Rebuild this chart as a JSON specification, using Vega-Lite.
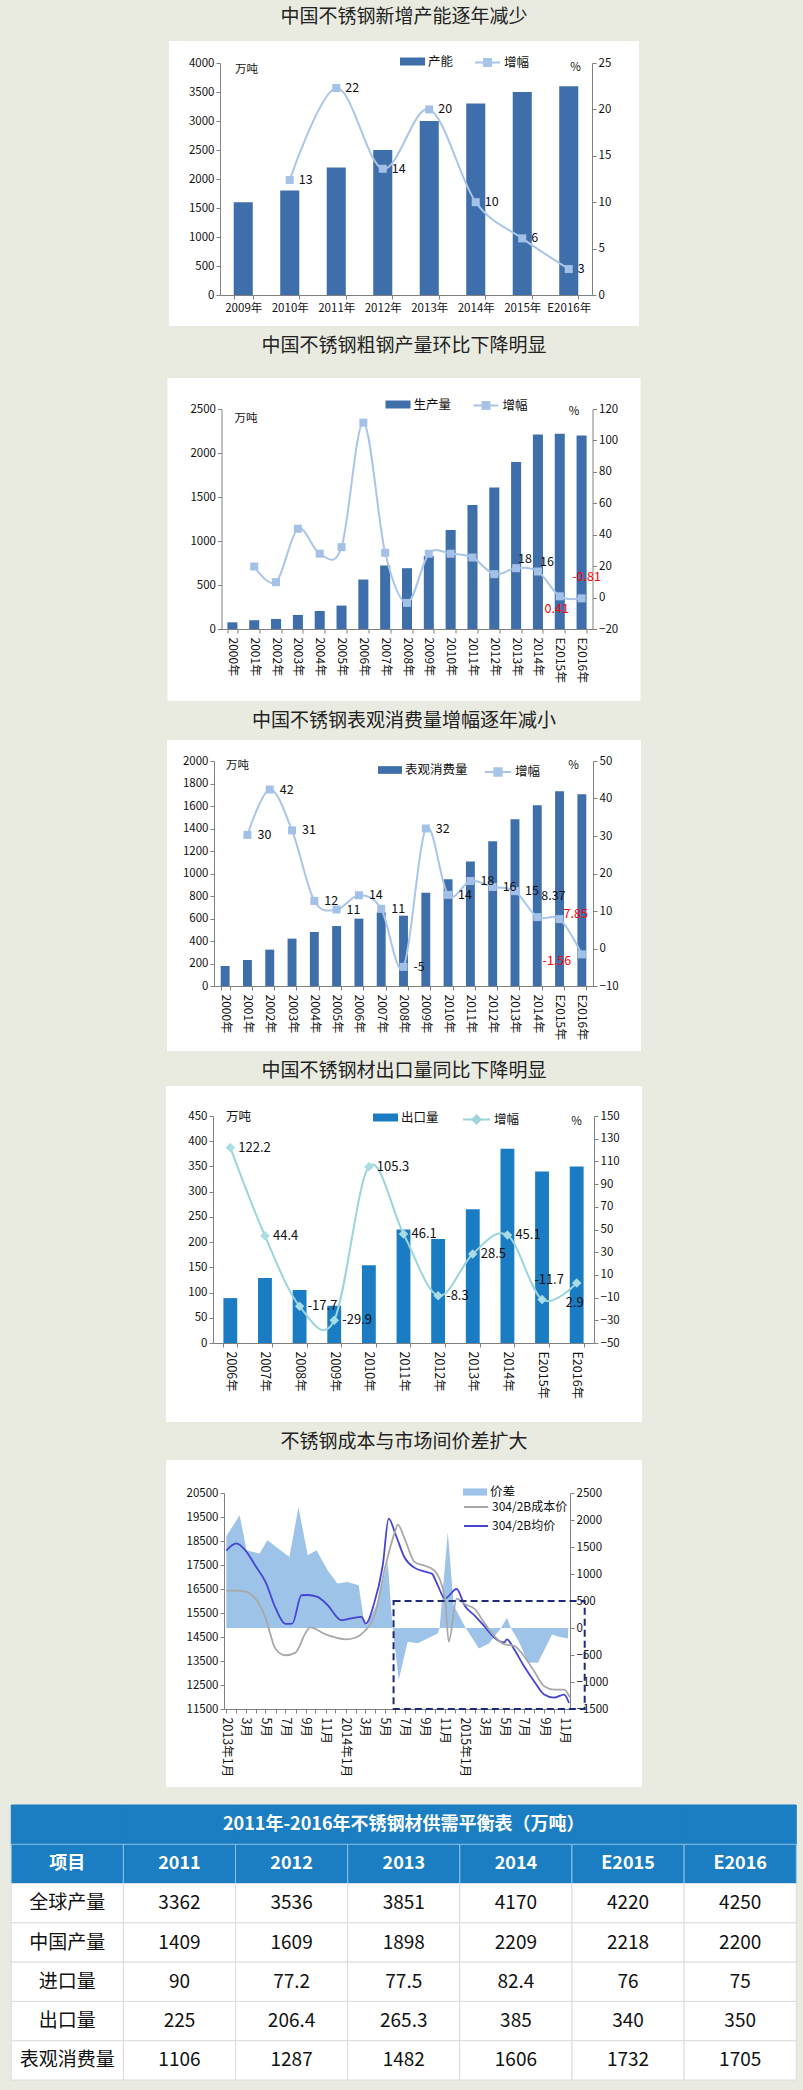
{
"$schema": "https://vega.github.io/schema/vega-lite/v6.json",
"padding": {"left": 10, "right": 8, "top": 8, "bottom": 16},
"config": {
  "background": "#e9ebe1",
  "font": "Noto Sans CJK SC",
  "view": {"stroke": null},
  "axis": {"labelFont": "Noto Sans CJK SC", "labelFontSize": 11.5, "labelColor": "#111111", "domainColor": "#808080", "tickColor": "#808080", "tickSize": 4, "grid": false, "titleFont": "Noto Sans CJK SC", "titleFontSize": 11.5, "titleFontWeight": "normal", "titleColor": "#111111", "labelOverlap": false, "labelFlush": false, "labelBound": false},
  "title": {"font": "Noto Sans CJK SC", "fontSize": 19, "fontWeight": "normal", "color": "#222222"},
  "legend": {"labelFont": "Noto Sans CJK SC", "labelFontSize": 12.5, "labelColor": "#111111", "padding": 0, "labelOffset": 3},
  "text": {"font": "Noto Sans CJK SC", "fontSize": 12}
},
"resolve": {"scale": {"fill": "independent", "stroke": "independent", "x": "independent", "y": "independent"}, "legend": {"fill": "independent", "stroke": "independent"}},
"vconcat": [
 {
  "spacing": 11,
  "center": true,
  "resolve": {"scale": {"fill": "independent", "stroke": "independent", "x": "independent", "y": "independent"}, "legend": {"fill": "independent", "stroke": "independent"}},
  "vconcat": [
   {
    "width": 470, "height": 285,
    "view": {"fill": "#ffffff", "stroke": null},
    "title": {"text": "中国不锈钢新增产能逐年减少", "offset": 14},
    "data": {"values": [
      {"year": "2009年", "v": 1600},
      {"year": "2010年", "v": 1800, "pct": 12.4, "label": "13"},
      {"year": "2011年", "v": 2200, "pct": 22.3, "label": "22"},
      {"year": "2012年", "v": 2500, "pct": 13.6, "label": "14"},
      {"year": "2013年", "v": 3000, "pct": 20, "label": "20"},
      {"year": "2014年", "v": 3300, "pct": 10, "label": "10"},
      {"year": "2015年", "v": 3500, "pct": 6.1, "label": "6"},
      {"year": "E2016年", "v": 3600, "pct": 2.8, "label": "3"}
    ]},
    "encoding": {"x": {"field": "year", "type": "ordinal", "scale": {"range": [51, 423], "paddingInner": 0.59, "paddingOuter": 0.295}, "axis": {"title": null, "labelAngle": 0, "offset": -31, "tickBand": "extent", "labelPadding": 3}}},
    "layer": [
     {"mark": {"type": "bar"},
      "encoding": {
       "y": {"field": "v", "type": "quantitative", "scale": {"domain": [0, 4000], "range": [254, 22], "nice": false, "zero": false}, "axis": {"orient": "left", "offset": -51, "values": [0, 500, 1000, 1500, 2000, 2500, 3000, 3500, 4000], "format": "d", "title": "万吨", "titleAngle": 0, "titleX": 26, "titleY": 28, "titleAlign": "center", "titleBaseline": "middle"}},
       "fill": {"datum": "产能", "type": "nominal", "scale": {"range": ["#3f6faa"]}, "legend": {"title": null, "orient": "none", "legendX": 231, "legendY": 8, "symbolType": "M-1,-0.32H1V0.32H-1Z", "symbolSize": 625, "symbolStrokeWidth": 0}}
      }},
     {"transform": [{"filter": "isValid(datum.pct)"}],
      "encoding": {"y": {"field": "pct", "type": "quantitative", "scale": {"domain": [0, 25], "range": [254, 22], "nice": false, "zero": false}, "axis": {"orient": "right", "offset": -47, "values": [0, 5, 10, 15, 20, 25], "format": "d", "title": "%", "titleAngle": 0, "titleX": -17, "titleY": 26, "titleAlign": "center", "titleBaseline": "middle"}}},
      "layer": [
       {"mark": {"type": "line", "interpolate": "cardinal", "tension": 0, "strokeWidth": 2},
        "encoding": {"stroke": {"datum": "增幅", "type": "nominal", "scale": {"range": ["#a9c5e8"]}, "legend": {"title": null, "orient": "none", "legendX": 305, "legendY": 8, "symbolType": "M-1,0H1M-0.28,-0.28H0.28V0.28H-0.28Z", "symbolSize": 625, "symbolStrokeWidth": 2, "symbolFillColor": "#a3c1e7"}}}},
       {"mark": {"type": "point", "shape": "square", "filled": true, "size": 64, "color": "#a3c1e7", "opacity": 1}},
       {"mark": {"type": "text", "align": "left", "baseline": "middle", "dx": 9, "fontSize": 12.5, "color": "#111111"}, "encoding": {"text": {"field": "label"}}}
      ]}
    ],
    "resolve": {"scale": {"y": "independent"}}
   },
   {
    "width": 473, "height": 323,
    "view": {"fill": "#ffffff", "stroke": null},
    "title": {"text": "中国不锈钢粗钢产量环比下降明显", "offset": 22},
    "data": {"values": [
      {"year": "2000年", "v": 76},
      {"year": "2001年", "v": 100, "pct": 19.8},
      {"year": "2002年", "v": 114, "pct": 9.8},
      {"year": "2003年", "v": 160, "pct": 43.8},
      {"year": "2004年", "v": 205, "pct": 27.9},
      {"year": "2005年", "v": 266, "pct": 32.1},
      {"year": "2006年", "v": 562, "pct": 111.3},
      {"year": "2007年", "v": 722, "pct": 28.5},
      {"year": "2008年", "v": 691, "pct": -3.4},
      {"year": "2009年", "v": 830, "pct": 27.9},
      {"year": "2010年", "v": 1125, "pct": 27.9},
      {"year": "2011年", "v": 1409, "pct": 25.5},
      {"year": "2012年", "v": 1609, "pct": 14.9},
      {"year": "2013年", "v": 1898, "pct": 18.7, "label": "18"},
      {"year": "2014年", "v": 2209, "pct": 16.6, "label": "16"},
      {"year": "E2015年", "v": 2218, "pct": 0.8, "label": "0.41"},
      {"year": "E2016年", "v": 2200, "pct": -0.5, "label": "-0.81"}
    ]},
    "encoding": {"x": {"field": "year", "type": "ordinal", "scale": {"range": [54, 425], "paddingInner": 0.54, "paddingOuter": 0.27}, "axis": {"title": null, "labelAngle": 90, "labelFontSize": 12, "offset": -72, "tickBand": "extent", "labelPadding": 4}}},
    "layer": [
     {"mark": {"type": "bar"},
      "encoding": {
       "y": {"field": "v", "type": "quantitative", "scale": {"domain": [0, 2500], "range": [251, 31], "nice": false, "zero": false}, "axis": {"orient": "left", "offset": -54, "values": [0, 500, 1000, 1500, 2000, 2500], "format": "d", "title": "万吨", "titleAngle": 0, "titleX": 24, "titleY": 40, "titleAlign": "center", "titleBaseline": "middle"}},
       "fill": {"datum": "生产量", "type": "nominal", "scale": {"range": ["#3f6faa"]}, "legend": {"title": null, "orient": "none", "legendX": 218, "legendY": 14, "symbolType": "M-1,-0.32H1V0.32H-1Z", "symbolSize": 625, "symbolStrokeWidth": 0}}
      }},
     {"transform": [{"filter": "isValid(datum.pct)"}],
      "encoding": {"y": {"field": "pct", "type": "quantitative", "scale": {"domain": [-20, 120], "range": [251, 31], "nice": false, "zero": false}, "axis": {"orient": "right", "offset": -48, "values": [-20, 0, 20, 40, 60, 80, 100, 120], "format": "d", "title": "%", "titleAngle": 0, "titleX": -19, "titleY": 33, "titleAlign": "center", "titleBaseline": "middle"}}},
      "layer": [
       {"mark": {"type": "line", "interpolate": "cardinal", "tension": 0, "strokeWidth": 2},
        "encoding": {"stroke": {"datum": "增幅", "type": "nominal", "scale": {"range": ["#a9c5e8"]}, "legend": {"title": null, "orient": "none", "legendX": 305, "legendY": 14, "symbolType": "M-1,0H1M-0.28,-0.28H0.28V0.28H-0.28Z", "symbolSize": 625, "symbolStrokeWidth": 2, "symbolFillColor": "#a3c1e7"}}}},
       {"mark": {"type": "point", "shape": "square", "filled": true, "size": 64, "color": "#a3c1e7", "opacity": 1}},
       {"transform": [{"filter": "datum.year == '2013年' || datum.year == '2014年'"}], "mark": {"type": "text", "align": "left", "baseline": "middle", "dx": 2, "dy": -9, "fontSize": 12.5, "color": "#111111"}, "encoding": {"text": {"field": "label"}}},
       {"transform": [{"filter": "datum.year == 'E2015年'"}], "mark": {"type": "text", "align": "center", "baseline": "middle", "dx": -3, "dy": 13, "fontSize": 12.5, "color": "#ff0000"}, "encoding": {"text": {"field": "label"}}},
       {"transform": [{"filter": "datum.year == 'E2016年'"}], "mark": {"type": "text", "align": "center", "baseline": "middle", "dx": 5, "dy": -21, "fontSize": 12.5, "color": "#ff0000"}, "encoding": {"text": {"field": "label"}}}
      ]}
    ],
    "resolve": {"scale": {"y": "independent"}}
   },
   {
    "width": 474, "height": 311,
    "view": {"fill": "#ffffff", "stroke": null},
    "title": {"text": "中国不锈钢表观消费量增幅逐年减小", "offset": 9},
    "data": {"values": [
      {"year": "2000年", "v": 178},
      {"year": "2001年", "v": 231, "pct": 30.3, "label": "30"},
      {"year": "2002年", "v": 323, "pct": 42.4, "label": "42"},
      {"year": "2003年", "v": 421, "pct": 31.5, "label": "31"},
      {"year": "2004年", "v": 480, "pct": 12.7, "label": "12"},
      {"year": "2005年", "v": 533, "pct": 10.4, "label": "11"},
      {"year": "2006年", "v": 599, "pct": 14.2, "label": "14"},
      {"year": "2007年", "v": 655, "pct": 10.6, "label": "11"},
      {"year": "2008年", "v": 625, "pct": -4.9, "label": "-5"},
      {"year": "2009年", "v": 830, "pct": 32, "label": "32"},
      {"year": "2010年", "v": 948, "pct": 14.3, "label": "14"},
      {"year": "2011年", "v": 1106, "pct": 18, "label": "18"},
      {"year": "2012年", "v": 1287, "pct": 16.4, "label": "16"},
      {"year": "2013年", "v": 1482, "pct": 15.3, "label": "15"},
      {"year": "2014年", "v": 1606, "pct": 8.37, "label": "8.37"},
      {"year": "E2015年", "v": 1732, "pct": 7.85, "label": "7.85"},
      {"year": "E2016年", "v": 1705, "pct": -1.56, "label": "-1.56"}
    ]},
    "encoding": {"x": {"field": "year", "type": "ordinal", "scale": {"range": [47, 426], "paddingInner": 0.6, "paddingOuter": 0.3}, "axis": {"title": null, "labelAngle": 90, "labelFontSize": 12, "offset": -65, "tickBand": "extent", "labelPadding": 4}}},
    "layer": [
     {"mark": {"type": "bar"},
      "encoding": {
       "y": {"field": "v", "type": "quantitative", "scale": {"domain": [0, 2000], "range": [246, 21], "nice": false, "zero": false}, "axis": {"orient": "left", "offset": -47, "values": [0, 200, 400, 600, 800, 1000, 1200, 1400, 1600, 1800, 2000], "format": "d", "title": "万吨", "titleAngle": 0, "titleX": 23, "titleY": 25, "titleAlign": "center", "titleBaseline": "middle"}},
       "fill": {"datum": "表观消费量", "type": "nominal", "scale": {"range": ["#3f6faa"]}, "legend": {"title": null, "orient": "none", "legendX": 211, "legendY": 18, "symbolType": "M-1,-0.32H1V0.32H-1Z", "symbolSize": 576, "symbolStrokeWidth": 0}}
      }},
     {"transform": [{"filter": "isValid(datum.pct)"}],
      "encoding": {"y": {"field": "pct", "type": "quantitative", "scale": {"domain": [-10, 50], "range": [246, 21], "nice": false, "zero": false}, "axis": {"orient": "right", "offset": -48, "values": [-10, 0, 10, 20, 30, 40, 50], "format": "d", "title": "%", "titleAngle": 0, "titleX": -20, "titleY": 25, "titleAlign": "center", "titleBaseline": "middle"}}},
      "layer": [
       {"mark": {"type": "line", "interpolate": "cardinal", "tension": 0, "strokeWidth": 2},
        "encoding": {"stroke": {"datum": "增幅", "type": "nominal", "scale": {"range": ["#a9c5e8"]}, "legend": {"title": null, "orient": "none", "legendX": 317, "legendY": 18, "symbolType": "M-1,0H1M-0.28,-0.28H0.28V0.28H-0.28Z", "symbolSize": 676, "symbolStrokeWidth": 2, "symbolFillColor": "#a3c1e7"}}}},
       {"mark": {"type": "point", "shape": "square", "filled": true, "size": 64, "color": "#a3c1e7", "opacity": 1}},
       {"transform": [{"filter": "indexof(['2014年', 'E2015年', 'E2016年'], datum.year) < 0"}], "mark": {"type": "text", "align": "left", "baseline": "middle", "dx": 10, "fontSize": 12.5, "color": "#111111"}, "encoding": {"text": {"field": "label"}}},
       {"transform": [{"filter": "datum.year == '2014年'"}], "mark": {"type": "text", "align": "left", "baseline": "middle", "dx": 4, "dy": -21, "fontSize": 12.5, "color": "#111111"}, "encoding": {"text": {"field": "label"}}},
       {"transform": [{"filter": "datum.year == 'E2015年'"}], "mark": {"type": "text", "align": "left", "baseline": "middle", "dx": 4, "dy": -5, "fontSize": 12.5, "color": "#ff0000"}, "encoding": {"text": {"field": "label"}}},
       {"transform": [{"filter": "datum.year == 'E2016年'"}], "mark": {"type": "text", "align": "center", "baseline": "middle", "dx": -25, "dy": 7, "fontSize": 12.5, "color": "#ff0000"}, "encoding": {"text": {"field": "label"}}}
      ]}
    ],
    "resolve": {"scale": {"y": "independent"}}
   },
   {
    "width": 476, "height": 336,
    "view": {"fill": "#ffffff", "stroke": null},
    "title": {"text": "中国不锈钢材出口量同比下降明显", "offset": 5},
    "data": {"values": [
      {"year": "2006年", "v": 89, "pct": 122.2, "label": "122.2"},
      {"year": "2007年", "v": 129, "pct": 44.4, "label": "44.4"},
      {"year": "2008年", "v": 105, "pct": -17.7, "label": "-17.7"},
      {"year": "2009年", "v": 74, "pct": -29.9, "label": "-29.9"},
      {"year": "2010年", "v": 154, "pct": 105.3, "label": "105.3"},
      {"year": "2011年", "v": 225, "pct": 46.1, "label": "46.1"},
      {"year": "2012年", "v": 206.4, "pct": -8.3, "label": "-8.3"},
      {"year": "2013年", "v": 265.3, "pct": 28.5, "label": "28.5"},
      {"year": "2014年", "v": 385, "pct": 45.1, "label": "45.1"},
      {"year": "E2015年", "v": 340, "pct": -11.7, "label": "-11.7"},
      {"year": "E2016年", "v": 350, "pct": 2.9, "label": "2.9"}
    ]},
    "encoding": {"x": {"field": "year", "type": "ordinal", "scale": {"range": [47, 428], "paddingInner": 0.6, "paddingOuter": 0.3}, "axis": {"title": null, "labelAngle": 90, "labelFontSize": 12.5, "offset": -79, "tickBand": "extent", "labelPadding": 4}}},
    "layer": [
     {"mark": {"type": "bar"},
      "encoding": {
       "y": {"field": "v", "type": "quantitative", "scale": {"domain": [0, 450], "range": [257, 30], "nice": false, "zero": false}, "axis": {"orient": "left", "offset": -47, "values": [0, 50, 100, 150, 200, 250, 300, 350, 400, 450], "format": "d", "title": "万吨", "titleAngle": 0, "titleX": 25, "titleY": 30, "titleAlign": "center", "titleBaseline": "middle", "titleFontSize": 12.5}},
       "fill": {"datum": "出口量", "type": "nominal", "scale": {"range": ["#1a7cc3"]}, "legend": {"title": null, "orient": "none", "legendX": 207, "legendY": 19, "symbolType": "M-1,-0.32H1V0.32H-1Z", "symbolSize": 625, "symbolStrokeWidth": 0}}
      }},
     {"encoding": {"y": {"field": "pct", "type": "quantitative", "scale": {"domain": [-50, 150], "range": [257, 30], "nice": false, "zero": false}, "axis": {"orient": "right", "offset": -48, "values": [-50, -30, -10, 10, 30, 50, 70, 90, 110, 130, 150], "format": "d", "title": "%", "titleAngle": 0, "titleX": -18, "titleY": 35, "titleAlign": "center", "titleBaseline": "middle"}}},
      "layer": [
       {"mark": {"type": "line", "interpolate": "cardinal", "tension": 0, "strokeWidth": 2},
        "encoding": {"stroke": {"datum": "增幅", "type": "nominal", "scale": {"range": ["#9ad5dc"]}, "legend": {"title": null, "orient": "none", "legendX": 296, "legendY": 19, "symbolType": "M-1,0H1M0,-0.3L0.3,0L0,0.3L-0.3,0Z", "symbolSize": 729, "symbolStrokeWidth": 2, "symbolFillColor": "#a9dde3"}}}},
       {"mark": {"type": "point", "shape": "diamond", "filled": true, "size": 90, "color": "#a9dde3", "opacity": 1}},
       {"transform": [{"filter": "datum.year != 'E2015年' && datum.year != 'E2016年'"}], "mark": {"type": "text", "align": "left", "baseline": "middle", "dx": 8, "fontSize": 13, "color": "#111111"}, "encoding": {"text": {"field": "label"}}},
       {"transform": [{"filter": "datum.year == 'E2015年'"}], "mark": {"type": "text", "align": "center", "baseline": "middle", "dx": 7, "dy": -20, "fontSize": 13, "color": "#111111"}, "encoding": {"text": {"field": "label"}}},
       {"transform": [{"filter": "datum.year == 'E2016年'"}], "mark": {"type": "text", "align": "center", "baseline": "middle", "dx": -2, "dy": 20, "fontSize": 13, "color": "#111111"}, "encoding": {"text": {"field": "label"}}}
      ]}
    ],
    "resolve": {"scale": {"y": "independent"}}
   },
   {
    "width": 476, "height": 327,
    "view": {"fill": "#ffffff", "stroke": null},
    "title": {"text": "不锈钢成本与市场间价差扩大", "offset": 8},
    "encoding": {"x": {"field": "date", "type": "temporal", "scale": {"domain": [{"year": 2012, "month": 12, "date": 25}, {"year": 2015, "month": 11, "date": 19}], "range": [58, 404]}, "axis": {"title": null, "offset": -78, "tickCount": {"interval": "month", "step": 1}, "labelAngle": 90, "labelFontSize": 12.5, "labelPadding": 4, "labelExpr": "month(datum.value) % 2 == 0 ? (month(datum.value) == 0 ? year(datum.value) + '年1月' : (month(datum.value) + 1) + '月') : ''"}}},
    "layer": [
     {"data": {"values": [
       {"date": "2013/01/01", "v": 1700}, {"date": "2013/02/11", "v": 2086}, {"date": "2013/03/04", "v": 1440}, {"date": "2013/04/13", "v": 1378},
       {"date": "2013/05/07", "v": 1625}, {"date": "2013/07/13", "v": 1316}, {"date": "2013/08/10", "v": 2241}, {"date": "2013/09/07", "v": 1347},
       {"date": "2013/10/04", "v": 1440}, {"date": "2013/11/07", "v": 1070}, {"date": "2013/12/07", "v": 823}, {"date": "2014/01/07", "v": 854},
       {"date": "2014/02/10", "v": 792}, {"date": "2014/02/27", "v": 115}, {"date": "2014/03/07", "v": 50}, {"date": "2014/04/10", "v": 484},
       {"date": "2014/05/10", "v": 1222}, {"date": "2014/05/25", "v": 20}, {"date": "2014/06/13", "v": -960}, {"date": "2014/07/10", "v": -253},
       {"date": "2014/08/10", "v": -284}, {"date": "2014/10/10", "v": -100}, {"date": "2014/10/16", "v": 0}, {"date": "2014/11/10", "v": 1778},
       {"date": "2014/11/28", "v": 422}, {"date": "2014/12/19", "v": 176}, {"date": "2015/01/04", "v": 0}, {"date": "2015/02/13", "v": -378},
       {"date": "2015/03/16", "v": -286}, {"date": "2015/04/22", "v": 0}, {"date": "2015/05/10", "v": 188}, {"date": "2015/05/22", "v": 0},
       {"date": "2015/06/16", "v": -255}, {"date": "2015/07/13", "v": -640}, {"date": "2015/08/13", "v": -645}, {"date": "2015/09/25", "v": -120},
       {"date": "2015/10/16", "v": -163}, {"date": "2015/11/13", "v": -194}
      ]},
      "mark": {"type": "area", "interpolate": "linear", "opacity": 1},
      "encoding": {
       "y": {"field": "v", "type": "quantitative", "scale": {"domain": [-1500, 2500], "range": [249, 33], "nice": false, "zero": false}, "axis": {"orient": "right", "offset": -72, "values": [-1500, -1000, -500, 0, 500, 1000, 1500, 2000, 2500], "format": "d", "title": null}},
       "fill": {"datum": "价差", "type": "nominal", "scale": {"range": ["#9dc3e8"]}, "legend": {"title": null, "orient": "none", "legendX": 297, "legendY": 20, "symbolType": "M-1,-0.3H1V0.3H-1Z", "symbolSize": 576, "symbolStrokeWidth": 0}}
      }},
     {"data": {"values": [
       {"date": "2013/01/01", "s": "304/2B均价", "v": 18100}, {"date": "2013/02/01", "s": "304/2B均价", "v": 18400}, {"date": "2013/03/01", "s": "304/2B均价", "v": 18100},
       {"date": "2013/04/01", "s": "304/2B均价", "v": 17450}, {"date": "2013/05/01", "s": "304/2B均价", "v": 16800}, {"date": "2013/06/01", "s": "304/2B均价", "v": 15700},
       {"date": "2013/07/01", "s": "304/2B均价", "v": 15050}, {"date": "2013/07/22", "s": "304/2B均价", "v": 15060}, {"date": "2013/08/19", "s": "304/2B均价", "v": 16240},
       {"date": "2013/09/07", "s": "304/2B均价", "v": 16250}, {"date": "2013/10/07", "s": "304/2B均价", "v": 16170}, {"date": "2013/11/07", "s": "304/2B均价", "v": 15830},
       {"date": "2013/12/19", "s": "304/2B均价", "v": 15200}, {"date": "2014/01/25", "s": "304/2B均价", "v": 15300}, {"date": "2014/02/19", "s": "304/2B均价", "v": 15340},
       {"date": "2014/03/04", "s": "304/2B均价", "v": 15060}, {"date": "2014/03/28", "s": "304/2B均价", "v": 15830}, {"date": "2014/04/25", "s": "304/2B均价", "v": 17490},
       {"date": "2014/05/13", "s": "304/2B均价", "v": 19430}, {"date": "2014/06/04", "s": "304/2B均价", "v": 18740}, {"date": "2014/07/01", "s": "304/2B均价", "v": 17800},
       {"date": "2014/08/01", "s": "304/2B均价", "v": 17380}, {"date": "2014/09/01", "s": "304/2B均价", "v": 17220}, {"date": "2014/09/22", "s": "304/2B均价", "v": 17140},
       {"date": "2014/10/10", "s": "304/2B均价", "v": 16660}, {"date": "2014/11/01", "s": "304/2B均价", "v": 16100}, {"date": "2014/12/07", "s": "304/2B均价", "v": 16500},
       {"date": "2015/01/01", "s": "304/2B均价", "v": 15800}, {"date": "2015/02/01", "s": "304/2B均价", "v": 15380}, {"date": "2015/03/01", "s": "304/2B均价", "v": 14960},
       {"date": "2015/04/01", "s": "304/2B均价", "v": 14480}, {"date": "2015/05/01", "s": "304/2B均价", "v": 14270}, {"date": "2015/05/10", "s": "304/2B均价", "v": 14400},
       {"date": "2015/06/01", "s": "304/2B均价", "v": 13990}, {"date": "2015/07/01", "s": "304/2B均价", "v": 13290}, {"date": "2015/08/01", "s": "304/2B均价", "v": 12660},
       {"date": "2015/09/01", "s": "304/2B均价", "v": 12100}, {"date": "2015/10/01", "s": "304/2B均价", "v": 11970}, {"date": "2015/11/01", "s": "304/2B均价", "v": 12100},
       {"date": "2015/11/16", "s": "304/2B均价", "v": 11750},
       {"date": "2013/01/01", "s": "304/2B成本价", "v": 16430}, {"date": "2013/02/01", "s": "304/2B成本价", "v": 16430}, {"date": "2013/03/01", "s": "304/2B成本价", "v": 16390},
       {"date": "2013/04/01", "s": "304/2B成本价", "v": 16080}, {"date": "2013/05/01", "s": "304/2B成本价", "v": 15300}, {"date": "2013/06/01", "s": "304/2B成本价", "v": 14000},
       {"date": "2013/07/01", "s": "304/2B成本价", "v": 13740}, {"date": "2013/08/01", "s": "304/2B成本价", "v": 13850}, {"date": "2013/09/01", "s": "304/2B成本价", "v": 14680},
       {"date": "2013/09/15", "s": "304/2B成本价", "v": 14900}, {"date": "2013/11/01", "s": "304/2B成本价", "v": 14610}, {"date": "2013/12/01", "s": "304/2B成本价", "v": 14480},
       {"date": "2014/01/01", "s": "304/2B成本价", "v": 14400}, {"date": "2014/02/01", "s": "304/2B成本价", "v": 14480}, {"date": "2014/03/01", "s": "304/2B成本价", "v": 14750},
       {"date": "2014/04/01", "s": "304/2B成本价", "v": 15450}, {"date": "2014/05/01", "s": "304/2B成本价", "v": 17330}, {"date": "2014/06/01", "s": "304/2B成本价", "v": 18870},
       {"date": "2014/06/10", "s": "304/2B成本价", "v": 19180}, {"date": "2014/07/01", "s": "304/2B成本价", "v": 18590}, {"date": "2014/08/01", "s": "304/2B成本价", "v": 17610},
       {"date": "2014/09/01", "s": "304/2B成本价", "v": 17470}, {"date": "2014/10/01", "s": "304/2B成本价", "v": 17260}, {"date": "2014/11/01", "s": "304/2B成本价", "v": 16150},
       {"date": "2014/11/13", "s": "304/2B成本价", "v": 14300}, {"date": "2014/12/07", "s": "304/2B成本价", "v": 16100}, {"date": "2015/01/01", "s": "304/2B成本价", "v": 15870},
       {"date": "2015/02/01", "s": "304/2B成本价", "v": 15660}, {"date": "2015/03/01", "s": "304/2B成本价", "v": 15100}, {"date": "2015/04/01", "s": "304/2B成本价", "v": 14550},
       {"date": "2015/05/01", "s": "304/2B成本价", "v": 14200}, {"date": "2015/06/01", "s": "304/2B成本价", "v": 14130}, {"date": "2015/07/01", "s": "304/2B成本价", "v": 13710},
       {"date": "2015/08/01", "s": "304/2B成本价", "v": 13080}, {"date": "2015/09/01", "s": "304/2B成本价", "v": 12450}, {"date": "2015/10/01", "s": "304/2B成本价", "v": 12310},
       {"date": "2015/11/01", "s": "304/2B成本价", "v": 12310}, {"date": "2015/11/19", "s": "304/2B成本价", "v": 11970}
      ]},
      "mark": {"type": "line", "interpolate": "monotone", "strokeWidth": 1.8},
      "encoding": {
       "y": {"field": "v", "type": "quantitative", "scale": {"domain": [11500, 20500], "range": [249, 33], "nice": false, "zero": false}, "axis": {"orient": "left", "offset": -58, "values": [11500, 12500, 13500, 14500, 15500, 16500, 17500, 18500, 19500, 20500], "format": "d", "title": null}},
       "stroke": {"field": "s", "type": "nominal", "scale": {"domain": ["304/2B成本价", "304/2B均价"], "range": ["#a8a8a8", "#4545d4"]}, "legend": {"title": null, "orient": "none", "legendX": 297, "legendY": 34, "symbolType": "M-1,0H1", "symbolSize": 576, "symbolStrokeWidth": 2, "rowPadding": 0, "labelFontSize": 12}}
      }},
     {"data": {"values": [{"date": "2014/05/28", "date2": "2016/01/03", "hi": 500, "lo": -1500}]},
      "mark": {"type": "rect", "filled": false, "stroke": "#1f2a78", "strokeWidth": 2, "strokeDash": [7, 4]},
      "encoding": {
       "x2": {"field": "date2"},
       "y": {"field": "hi", "type": "quantitative", "scale": {"domain": [-1500, 2500], "range": [249, 33], "nice": false, "zero": false}, "axis": null},
       "y2": {"field": "lo"}
      }}
    ],
    "resolve": {"scale": {"y": "independent"}}
   }
  ]
 },
 {
  "width": 785, "height": 275,
  "view": {"stroke": null},
  "encoding": {
   "y": {"field": "row", "type": "nominal", "scale": {"domain": ["t", "h", "r1", "r2", "r3", "r4", "r5"], "paddingInner": 0, "paddingOuter": 0}, "axis": null}
  },
  "layer": [
   {"data": {"values": [{"row": "t", "col": "项目"}, {"row": "t", "col": "2011"}, {"row": "t", "col": "2012"}, {"row": "t", "col": "2013"}, {"row": "t", "col": "2014"}, {"row": "t", "col": "E2015"}, {"row": "t", "col": "E2016"}]},
    "mark": {"type": "rect", "fill": "#1b7dc2", "stroke": "#1b7dc2", "strokeWidth": 1},
    "encoding": {"x": {"field": "col", "type": "nominal", "scale": {"domain": ["项目", "2011", "2012", "2013", "2014", "E2015", "E2016"], "paddingInner": 0, "paddingOuter": 0}, "axis": null}}},
   {"data": {"values": [{"row": "h", "col": "项目", "t": "项目"}, {"row": "h", "col": "2011", "t": "2011"}, {"row": "h", "col": "2012", "t": "2012"}, {"row": "h", "col": "2013", "t": "2013"}, {"row": "h", "col": "2014", "t": "2014"}, {"row": "h", "col": "E2015", "t": "E2015"}, {"row": "h", "col": "E2016", "t": "E2016"}]},
    "layer": [
     {"mark": {"type": "rect", "fill": "#1b7dc2", "stroke": "#8cc0e6", "strokeWidth": 1},
      "encoding": {"x": {"field": "col", "type": "nominal", "axis": null}}},
     {"mark": {"type": "text", "color": "#ffffff", "fontWeight": "bold", "fontSize": 18, "baseline": "middle"},
      "encoding": {"x": {"field": "col", "type": "nominal", "axis": null}, "text": {"field": "t"}}}
    ]},
   {"data": {"values": [
     {"row": "r1", "col": "项目", "t": "全球产量"}, {"row": "r1", "col": "2011", "t": "3362"}, {"row": "r1", "col": "2012", "t": "3536"}, {"row": "r1", "col": "2013", "t": "3851"}, {"row": "r1", "col": "2014", "t": "4170"}, {"row": "r1", "col": "E2015", "t": "4220"}, {"row": "r1", "col": "E2016", "t": "4250"},
     {"row": "r2", "col": "项目", "t": "中国产量"}, {"row": "r2", "col": "2011", "t": "1409"}, {"row": "r2", "col": "2012", "t": "1609"}, {"row": "r2", "col": "2013", "t": "1898"}, {"row": "r2", "col": "2014", "t": "2209"}, {"row": "r2", "col": "E2015", "t": "2218"}, {"row": "r2", "col": "E2016", "t": "2200"},
     {"row": "r3", "col": "项目", "t": "进口量"}, {"row": "r3", "col": "2011", "t": "90"}, {"row": "r3", "col": "2012", "t": "77.2"}, {"row": "r3", "col": "2013", "t": "77.5"}, {"row": "r3", "col": "2014", "t": "82.4"}, {"row": "r3", "col": "E2015", "t": "76"}, {"row": "r3", "col": "E2016", "t": "75"},
     {"row": "r4", "col": "项目", "t": "出口量"}, {"row": "r4", "col": "2011", "t": "225"}, {"row": "r4", "col": "2012", "t": "206.4"}, {"row": "r4", "col": "2013", "t": "265.3"}, {"row": "r4", "col": "2014", "t": "385"}, {"row": "r4", "col": "E2015", "t": "340"}, {"row": "r4", "col": "E2016", "t": "350"},
     {"row": "r5", "col": "项目", "t": "表观消费量"}, {"row": "r5", "col": "2011", "t": "1106"}, {"row": "r5", "col": "2012", "t": "1287"}, {"row": "r5", "col": "2013", "t": "1482"}, {"row": "r5", "col": "2014", "t": "1606"}, {"row": "r5", "col": "E2015", "t": "1732"}, {"row": "r5", "col": "E2016", "t": "1705"}
    ]},
    "layer": [
     {"mark": {"type": "rect", "fill": "#ffffff", "stroke": "#dcdcdc", "strokeWidth": 1},
      "encoding": {"x": {"field": "col", "type": "nominal", "axis": null}}},
     {"mark": {"type": "text", "color": "#111111", "fontSize": 19, "baseline": "middle"},
      "encoding": {"x": {"field": "col", "type": "nominal", "axis": null}, "text": {"field": "t"}}}
    ]},
   {"data": {"values": [{"row": "t", "t": "2011年-2016年不锈钢材供需平衡表（万吨）"}]},
    "mark": {"type": "text", "color": "#ffffff", "fontWeight": "bold", "fontSize": 18, "baseline": "middle"},
    "encoding": {"text": {"field": "t"}}}
  ]
 }
],
"spacing": 17,
"center": true
}
